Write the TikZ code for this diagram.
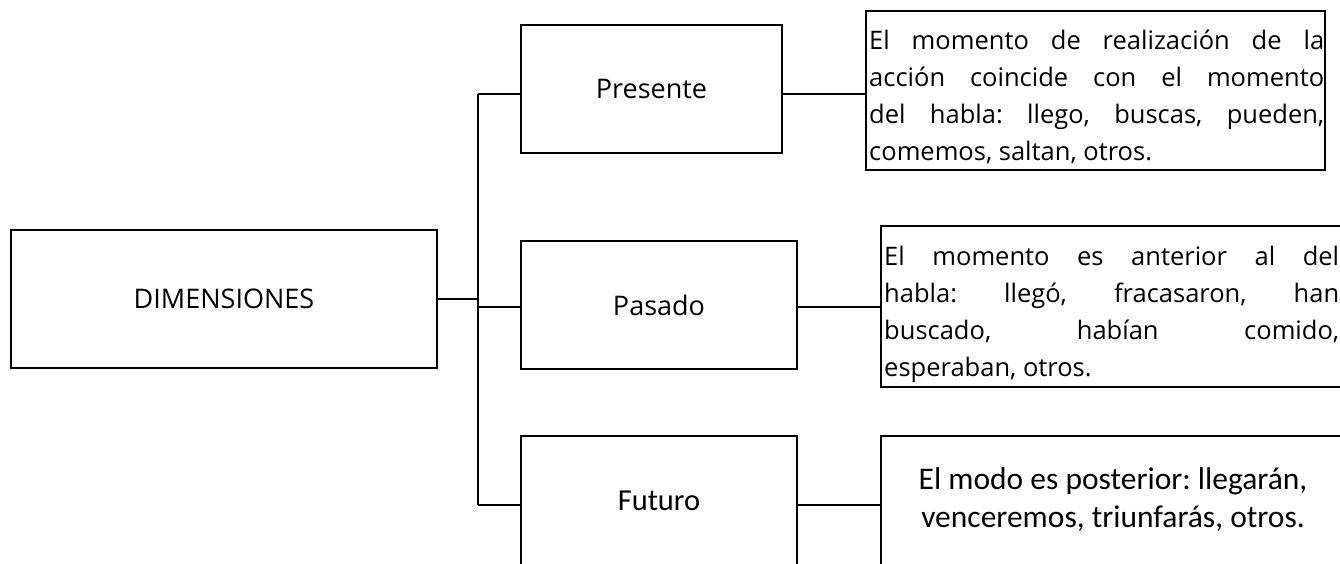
\documentclass[tikz,border=0pt]{standalone}
\usepackage{fontspec}
\setmainfont{Open Sans}
\newfontfamily\carl{Carlito}
\frenchspacing
\begin{document}
\begin{tikzpicture}[x=1pt,y=-1pt,
  box/.style={draw=black,line width=2.8pt,inner sep=0pt,align=center},
  conn/.style={draw=black,line width=2.8pt},
  para/.style={anchor=north west,inner sep=0pt,text width=455pt,align=justify,
     font=\frenchspacing\fontsize{25.5}{37}\selectfont}]
\useasboundingbox (0,0) rectangle (1340,564);
\node[box,minimum width=426pt,minimum height=138pt,font=\fontsize{27}{30}\selectfont] (dim) at (224,299) {DIMENSIONES};
\node[box,minimum width=261pt,minimum height=128pt,font=\fontsize{27}{30}\selectfont] (pres) at (651.5,89) {Presente};
\node[box,minimum width=276pt,minimum height=128pt,font=\fontsize{27}{30}\selectfont] (pas) at (659,305) {Pasado};
\node[box,minimum width=276pt,minimum height=130pt,font=\carl\fontsize{30.5}{34}\selectfont] (fut) at (659,501) {Futuro};
\node[box,minimum width=459pt,minimum height=159pt] (t1) at (1095.5,90.5) {};
\node[box,minimum width=462pt,minimum height=161pt] (t2) at (1112,306.5) {};
\node[box,minimum width=462pt,minimum height=161pt] (t3) at (1112,516.5) {};
\node[para] (t1txt) at (869,30)
 {El momento de realización de la\linebreak acción coincide con el momento\linebreak del habla: llego, buscas, pueden,\linebreak comemos, saltan, otros.};
\node[para] (t2txt) at (884,246)
 {El momento es anterior al del\linebreak habla: llegó, fracasaron, han\linebreak buscado, habían comido,\linebreak esperaban, otros.};
\node[inner sep=0pt,align=center,font=\carl\fontsize{31.5}{38}\selectfont] (t3txt) at (1113,500)
 {El modo es posterior: llegarán,\\venceremos, triunfarás, otros.};
\coordinate (ttop) at (478,94);
\coordinate (tbot) at (478,505);
\coordinate (tmid) at (478,307);
\coordinate (tdim) at (478,299);
\draw[conn] (ttop) -- (tbot);
\draw[conn] (dim.east |- tdim) -- (tdim);
\draw[conn] (ttop) -- (ttop -| pres.west);
\draw[conn] (tmid) -- (tmid -| pas.west);
\draw[conn] (tbot) -- (tbot -| fut.west);
\draw[conn] (ttop -| pres.east) -- (ttop -| t1.west);
\draw[conn] (tmid -| pas.east) -- (tmid -| t2.west);
\draw[conn] (tbot -| fut.east) -- (tbot -| t3.west);
\end{tikzpicture}
\end{document}
